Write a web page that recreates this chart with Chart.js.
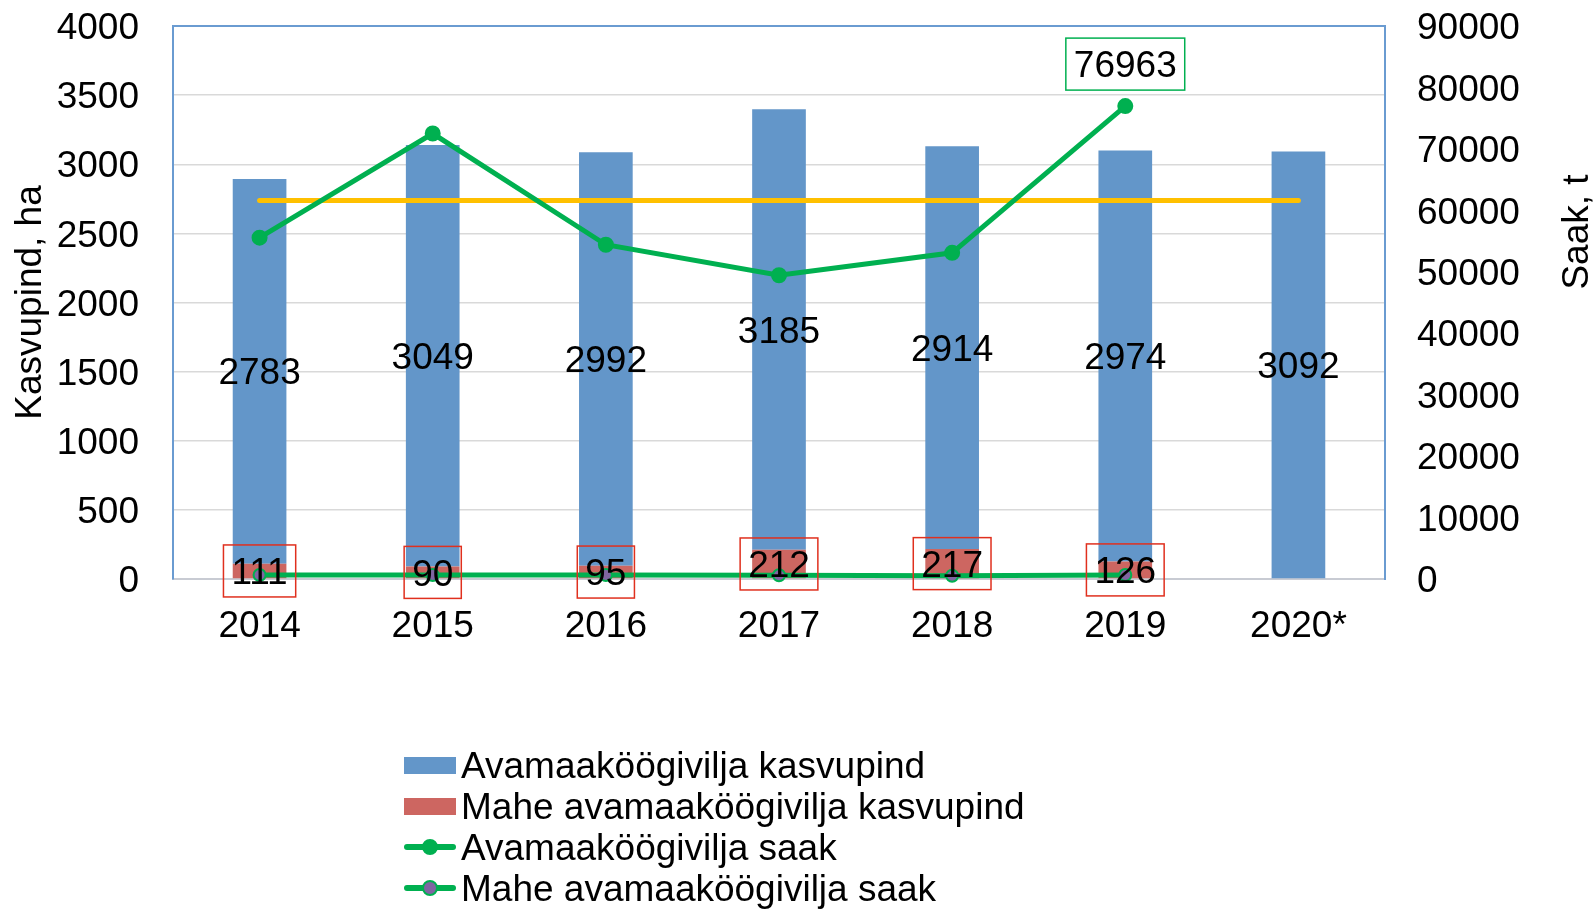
<!DOCTYPE html>
<html>
<head>
<meta charset="utf-8">
<title>Avamaaköögivilja kasvupind ja saak</title>
<script src="https://cdn.jsdelivr.net/npm/chart.js@4.4.1/dist/chart.umd.min.js"></script>
<style>
  body { margin: 0; background: #fff; }
  #wrap { position: relative; width: 1596px; height: 910px; }
  #legend { position: absolute; left: 404px; top: 745px; font: 37px "Liberation Sans", Arial, sans-serif; color: #000; }
  #legend .row { height: 41px; line-height: 41px; display: flex; align-items: center; white-space: nowrap; }
  #legend .icon { position: relative; width: 52px; height: 41px; margin-right: 5px; flex: none; }
  #legend .box { position: absolute; left: 0; top: 12px; width: 52px; height: 17px; }
  #legend .line { position: absolute; left: 0; top: 17px; width: 52px; height: 6px; border-radius: 3px; }
  #legend .dot { position: absolute; left: 18px; top: 12px; width: 16px; height: 16px; border-radius: 50%; box-sizing: border-box; border: 2px solid #00b050; }
</style>
</head>
<body>
<div id="wrap">
  <canvas id="chart" width="1596" height="910"></canvas>
  <div id="legend"></div>
</div>
<script>
// andmed
var years = ['2014', '2015', '2016', '2017', '2018', '2019', '2020*'];
var avamaaPind = [2783, 3049, 2992, 3185, 2914, 2974, 3092];
var mahePind = [111, 90, 95, 212, 217, 126, null];
var avamaaSaak = [55550, 72500, 54400, 49430, 53090, 76963, null];
var maheSaak = [650, 640, 640, 600, 520, 640, null];
var keskmineSaak = [61600, 61600, 61600, 61600, 61600, 61600, 61600];

var pindMax = 4000, pindStep = 500;
var saakMax = 90000, saakStep = 10000;

var FONT = '"Liberation Sans", Arial, sans-serif';
var FS = 37;
var BLUE = '#6396c9', RED = '#cd6661', GREEN = '#00b050', PURPLE = '#8064a2', YELLOW = '#ffc000';

// numbrid tulpadel / punktidel
var valueLabels = {
  id: 'valueLabels',
  afterDatasetsDraw: function(chart) {
    var ctx = chart.ctx;
    ctx.save();
    ctx.font = FS + 'px ' + FONT;
    ctx.textAlign = 'center';
    ctx.textBaseline = 'middle';
    chart.data.datasets.forEach(function(ds, i) {
      if (!ds.labelMode) return;
      var meta = chart.getDatasetMeta(i);
      var last = -1;
      ds.data.forEach(function(v, j) { if (v != null) last = j; });
      meta.data.forEach(function(el, j) {
        var v = ds.data[j];
        if (v == null) return;
        if (ds.labelMode == 'last' && j != last) return;
        var text = String(v);
        var p = el.getCenterPoint();
        var y = ds.labelMode == 'last' ? p.y - 42 : p.y;
        if (ds.labelBox) {
          var w = ctx.measureText(text).width + 16;
          var h = 52;
          if (ds.labelMode == 'last') {
            ctx.fillStyle = '#fff';
            ctx.fillRect(p.x - w / 2, y - h / 2, w, h);
          }
          ctx.strokeStyle = ds.labelBox;
          ctx.lineWidth = 1.5;
          ctx.strokeRect(p.x - w / 2, y - h / 2, w, h);
        }
        ctx.fillStyle = '#000';
        ctx.fillText(text, p.x, y + 3);
      });
    });
    ctx.restore();
  },
  afterDraw: function(chart) {
    var ctx = chart.ctx, a = chart.chartArea;
    ctx.save();
    // raami ülemine serv
    ctx.strokeStyle = '#6a9bd1';
    ctx.lineWidth = 2;
    ctx.beginPath();
    ctx.moveTo(a.left, a.top);
    ctx.lineTo(a.right, a.top);
    ctx.stroke();
    // parem telje pealkiri (alt üles)
    ctx.translate(chart.scales.y1.right - 18, a.top + 206);
    ctx.rotate(-Math.PI / 2);
    ctx.font = FS + 'px ' + FONT;
    ctx.fillStyle = '#000';
    ctx.textAlign = 'center';
    ctx.textBaseline = 'middle';
    ctx.fillText('Saak, t', 0, 0);
    ctx.restore();
  }
};

var chart = new Chart(document.getElementById('chart'), {
  data: {
    labels: years,
    datasets: [
      {
        type: 'bar', label: 'Mahe avamaaköögivilja kasvupind', data: mahePind,
        backgroundColor: RED, yAxisID: 'y', order: 1,
        labelMode: 'all', labelBox: '#e0301e', legendRank: 1
      },
      {
        type: 'bar', label: 'Avamaaköögivilja kasvupind', data: avamaaPind,
        backgroundColor: BLUE, yAxisID: 'y', order: 1,
        labelMode: 'all', legendRank: 0
      },
      {
        type: 'line', label: 'Avamaaköögivilja saak', data: avamaaSaak,
        borderColor: GREEN, backgroundColor: GREEN, borderWidth: 5,
        pointRadius: 7, pointBorderWidth: 2, pointBackgroundColor: GREEN, pointBorderColor: GREEN,
        yAxisID: 'y1', order: 0, clip: false,
        labelMode: 'last', labelBox: GREEN, legendRank: 2
      },
      {
        type: 'line', label: 'Mahe avamaaköögivilja saak', data: maheSaak,
        borderColor: GREEN, backgroundColor: PURPLE, borderWidth: 5,
        pointRadius: 6, pointBorderWidth: 2, pointBackgroundColor: PURPLE, pointBorderColor: GREEN,
        yAxisID: 'y1', order: 0, clip: false, legendRank: 3
      },
      {
        type: 'line', label: 'Keskmine saak', data: keskmineSaak,
        borderColor: YELLOW, borderWidth: 5, borderCapStyle: 'round', pointRadius: 0,
        yAxisID: 'y1', order: 0, clip: false
      }
    ]
  },
  options: {
    responsive: false,
    animation: false,
    barPercentage: 0.31,
    categoryPercentage: 1,
    layout: { padding: { top: 26, bottom: 251, left: 0, right: 0 } },
    plugins: {
      legend: { display: false },
      tooltip: { enabled: false }
    },
    scales: {
      x: {
        stacked: true,
        grid: { display: false, drawTicks: false },
        border: { color: '#c8cbd3', width: 2 },
        ticks: { color: '#000', font: { family: FONT, size: FS }, padding: 26, maxRotation: 0 },
        afterFit: function(s) { s.height = 80; }
      },
      y: {
        stacked: true,
        position: 'left',
        min: 0, max: pindMax,
        // tühi tick-märk annab siltidele vahe, padding jääb väikeseks
        grid: { color: '#d9d9d9', lineWidth: 1.5, drawTicks: true, tickLength: 31, tickColor: 'rgba(0,0,0,0)' },
        border: { color: '#6a9bd1', width: 2 },
        ticks: {
          stepSize: pindStep, color: '#000', font: { family: FONT, size: FS }, padding: 3, labelOffset: 3,
          callback: function(v) { return String(v); }
        },
        title: { display: true, text: 'Kasvupind, ha', color: '#000', font: { family: FONT, size: FS }, padding: { top: 9, bottom: 0 } },
        afterFit: function(s) { s.width = 173; }
      },
      y1: {
        position: 'right',
        min: 0, max: saakMax,
        grid: { display: false, drawTicks: true, tickLength: 29, tickColor: 'rgba(0,0,0,0)' },
        border: { color: '#6a9bd1', width: 2 },
        ticks: {
          stepSize: saakStep, color: '#000', font: { family: FONT, size: FS }, padding: 3, labelOffset: 3,
          callback: function(v) { return String(v); }
        },
        afterFit: function(s) { s.width = 211; }
      }
    }
  },
  plugins: [valueLabels]
});

// legend HTML-ina, üks kirje reale
var legend = document.getElementById('legend');
chart.data.datasets
  .filter(function(ds) { return ds.legendRank != null; })
  .sort(function(a, b) { return a.legendRank - b.legendRank; })
  .forEach(function(ds) {
    var row = document.createElement('div');
    row.className = 'row';
    var icon = document.createElement('span');
    icon.className = 'icon';
    if (ds.type == 'bar') {
      var box = document.createElement('span');
      box.className = 'box';
      box.style.background = ds.backgroundColor;
      icon.appendChild(box);
    } else {
      var line = document.createElement('span');
      line.className = 'line';
      line.style.background = ds.borderColor;
      var dot = document.createElement('span');
      dot.className = 'dot';
      dot.style.background = ds.pointBackgroundColor;
      icon.appendChild(line);
      icon.appendChild(dot);
    }
    row.appendChild(icon);
    row.appendChild(document.createTextNode(ds.label));
    legend.appendChild(row);
  });
</script>
</body>
</html>
